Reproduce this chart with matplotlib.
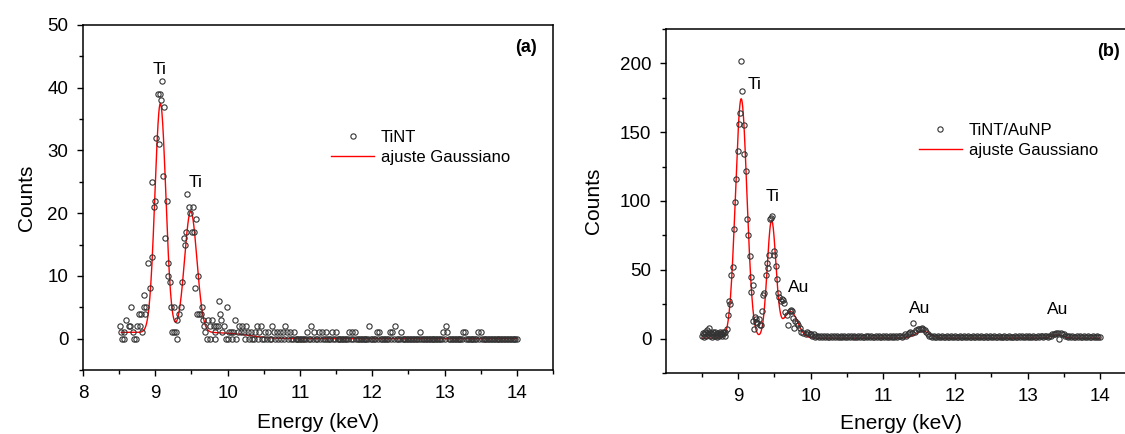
import numpy as np
import matplotlib
matplotlib.use("Agg")
import matplotlib.pyplot as plt
from matplotlib.ticker import MultipleLocator

plt.rcParams['font.family'] = ['Liberation Sans', 'DejaVu Sans']

# ---- panel (a): TiNT ----
# peak region, points (keV, counts)
peak_e_a = [8.515, 8.53, 8.54, 8.57, 8.565, 8.59, 8.63, 8.65, 8.66, 8.69,
            8.70, 8.73, 8.75, 8.78, 8.80, 8.79, 8.82, 8.84, 8.85, 8.87,
            8.86, 8.90, 8.93, 8.95, 8.96, 8.975, 8.995, 9.005, 9.035, 9.045,
            9.06, 9.08, 9.095, 9.125, 9.105, 9.135, 9.16, 9.18, 9.17, 9.21,
            9.22, 9.23, 9.26, 9.26, 9.28, 9.30, 9.30, 9.33, 9.355, 9.37,
            9.39, 9.41, 9.425, 9.44, 9.465, 9.485, 9.505, 9.52, 9.535, 9.56,
            9.595, 9.555, 9.575, 9.605, 9.63, 9.645, 9.655, 9.675, 9.685, 9.71,
            9.73, 9.75, 9.76, 9.78, 9.81, 9.82, 9.83, 9.84, 9.87, 9.885,
            9.90, 9.915, 9.925, 9.95, 9.975, 9.985]
peak_c_a = [2, 1, 0, 0, 1, 3, 2, 2, 5, 1,
            0, 0, 2, 4, 4, 2, 1, 5, 7, 5,
            4, 12, 8, 13, 25, 21, 22, 32, 39, 31,
            39, 38, 41, 37, 26, 16, 22, 12, 10, 9,
            5, 1, 5, 1, 1, 0, 3, 4, 5, 9,
            16, 15, 17, 23, 21, 20, 17, 21, 17, 19,
            10, 8, 4, 4, 4, 5, 3, 2, 1, 0,
            3, 0, 2, 3, 2, 1, 0, 2, 2, 6,
            4, 3, 1, 2, 0, 5]
# 10.00 ... 14.00 keV, 0.02 keV channels
tail_c_a = [0, 1, 1, 0, 1, 3, 0, 1, 2, 1,
            2, 1, 0, 2, 1, 0, 1, 0, 0, 1,
            2, 0, 1, 2, 0, 0, 1, 0, 1, 0,
            0, 2, 1, 0, 1, 0, 1, 0, 1, 0,
            2, 1, 0, 1, 0, 0, 1, 0, 0, 0,
            0, 0, 0, 0, 0, 1, 0, 0, 2, 0,
            1, 0, 0, 1, 0, 1, 0, 0, 1, 0,
            0, 0, 1, 0, 0, 1, 0, 0, 0, 0,
            0, 0, 0, 0, 1, 0, 1, 0, 1, 0,
            0, 0, 0, 0, 0, 0, 0, 0, 2, 0,
            0, 0, 0, 1, 0, 1, 0, 0, 0, 0,
            0, 0, 1, 0, 1, 0, 2, 0, 0, 0,
            1, 0, 0, 0, 0, 0, 0, 0, 0, 0,
            0, 0, 0, 1, 0, 0, 0, 0, 0, 0,
            0, 0, 0, 0, 0, 0, 0, 0, 0, 1,
            0, 2, 1, 0, 0, 0, 0, 0, 0, 0,
            0, 0, 0, 1, 1, 0, 0, 0, 0, 0,
            0, 0, 0, 1, 0, 1, 0, 0, 0, 0,
            0, 0, 0, 0, 0, 0, 0, 0, 0, 0,
            0, 0, 0, 0, 0, 0, 0, 0, 0, 0,
            0]
# gaussian fit (a): centres, heights, sigmas, background level
fit_cen_a = [9.07, 9.49]
fit_amp_a = [36.5, 19.3]
fit_sig_a = [0.075, 0.085]
fit_bg_a = 1.0

# ---- panel (b): TiNT/AuNP ----
peak_e_b = [8.50, 8.51, 8.52, 8.53, 8.54, 8.55, 8.56, 8.57, 8.58, 8.59,
            8.60, 8.61, 8.62, 8.63, 8.64, 8.65, 8.66, 8.67, 8.68, 8.69,
            8.70, 8.71, 8.72, 8.73, 8.74, 8.75, 8.76, 8.77, 8.78, 8.79,
            8.80, 8.81, 8.82, 8.84, 8.86, 8.87, 8.885, 8.905, 8.925, 8.945,
            8.955, 8.97, 8.99, 9.005, 9.02, 9.035, 9.05, 9.075, 9.085, 9.10,
            9.12, 9.13, 9.155, 9.17, 9.18, 9.20, 9.215, 9.21, 9.23, 9.24,
            9.25, 9.26, 9.28, 9.295, 9.315, 9.325, 9.345, 9.36, 9.385, 9.39,
            9.41, 9.425, 9.435, 9.455, 9.47, 9.49, 9.50, 9.515, 9.54, 9.555,
            9.565, 9.59, 9.60, 9.62, 9.63, 9.645, 9.68, 9.69, 9.71, 9.725,
            9.74, 9.75, 9.77, 9.79, 9.81, 9.83, 9.85, 9.87, 9.90, 9.93,
            9.95, 9.97, 9.99]
peak_c_b = [2, 4, 1, 3, 5, 2, 4, 6, 3, 8,
            5, 2, 4, 1, 3, 5, 2, 4, 5, 2,
            3, 1, 4, 2, 5, 3, 4, 2, 3, 5,
            4, 2, 5, 7, 17, 27, 25, 46, 52, 80,
            99, 116, 136, 156, 164, 202, 180, 155, 134, 122,
            87, 75, 60, 45, 34, 39, 7, 13, 16, 14,
            12, 11, 14, 10, 10, 20, 32, 33, 46, 55,
            51, 61, 87, 88, 89, 64, 61, 53, 43, 33,
            30, 27, 29, 28, 26, 19, 17, 10, 20, 21,
            20, 15, 8, 13, 11, 10, 8, 5, 4, 3,
            5, 4, 3]
# 10.00 ... 14.00 keV, 0.02 keV channels
tail_c_b = [3, 2, 3, 1, 2, 2, 1, 2, 1, 2,
            1, 2, 1, 1, 2, 1, 2, 1, 2, 1,
            1, 2, 1, 2, 1, 1, 2, 1, 2, 1,
            2, 1, 1, 2, 1, 2, 1, 1, 2, 1,
            2, 1, 2, 1, 1, 2, 1, 2, 1, 1,
            2, 1, 2, 1, 1, 2, 1, 2, 1, 2,
            1, 2, 2, 1, 2, 3, 2, 3, 4, 5,
            4, 11, 5, 6, 7, 7, 7, 8, 7, 6,
            5, 3, 2, 2, 1, 2, 1, 1, 2, 1,
            1, 2, 1, 1, 2, 1, 1, 2, 1, 1,
            2, 1, 1, 2, 1, 1, 2, 1, 1, 2,
            1, 1, 2, 1, 1, 2, 1, 1, 2, 1,
            1, 2, 1, 1, 2, 1, 1, 2, 1, 1,
            2, 1, 1, 1, 2, 1, 1, 2, 1, 1,
            1, 2, 1, 1, 2, 1, 2, 1, 1, 2,
            1, 2, 1, 1, 2, 1, 1, 2, 1, 2,
            2, 1, 2, 2, 1, 2, 2, 3, 3, 3,
            4, 4, 0, 4, 3, 3, 2, 2, 1, 2,
            1, 2, 1, 1, 2, 1, 2, 1, 1, 2,
            1, 1, 2, 1, 1, 2, 1, 1, 2, 1,
            1]
fit_cen_b = [9.04, 9.46, 9.72, 11.55, 13.41]
fit_amp_b = [174, 85, 19.5, 5.0, 2.5]
fit_sig_b = [0.079, 0.06, 0.1, 0.1, 0.08]
fit_bg_b = 0.3

tail_e = np.round(np.arange(10.0, 14.001, 0.02), 2)

labels_a = [("Ti", 9.06, 42.9), ("Ti", 9.55, 24.9)]
labels_b = [("Ti", 9.23, 185), ("Ti", 9.47, 103), ("Au", 9.83, 37),
            ("Au", 11.51, 22), ("Au", 13.42, 21)]


def gauss_fit(e, cen, amp, sig, bg):
    y = np.zeros_like(e) + bg
    for c, a, s in zip(cen, amp, sig):
        y = y + a * np.exp(-(e - c) ** 2 / (2 * s ** 2))
    return y


def style_axes(ax):
    for sp in ax.spines.values():
        sp.set_linewidth(1.1)
    ax.tick_params(which='both', direction='out', top=False, right=False,
                   labelsize=13.5, width=1.0, pad=6)
    ax.tick_params(which='major', length=4.5)
    ax.tick_params(which='minor', length=3)


fig = plt.figure(figsize=(11.25, 4.34), dpi=100)
ax1 = fig.add_axes([83 / 1125, 64 / 434, 470 / 1125, 345 / 434])
ax2 = fig.add_axes([666 / 1125, 61 / 434, 470 / 1125, 344 / 434])

mk = dict(marker='o', markersize=3.8, markerfacecolor='none',
          markeredgecolor='#333333', markeredgewidth=0.8, linestyle='none')

# (a)
e_a = np.array(peak_e_a + list(tail_e))
c_a = np.array(peak_c_a + tail_c_a)
ax1.plot(e_a, c_a, **mk, label='TiNT', zorder=3)
ee = np.linspace(8.53, 14.0, 1500)
bg_a = fit_bg_a / (1 + np.exp((ee - 10.3) / 0.15))
ax1.plot(ee, gauss_fit(ee, fit_cen_a, fit_amp_a, fit_sig_a, 0) + bg_a,
         color='red', lw=1.0, label='ajuste Gaussiano', zorder=2)
ax1.set_xlim(8, 14.5)
ax1.set_ylim(-5, 50)
ax1.xaxis.set_major_locator(MultipleLocator(1))
ax1.xaxis.set_minor_locator(MultipleLocator(0.5))
ax1.yaxis.set_major_locator(MultipleLocator(10))
ax1.yaxis.set_minor_locator(MultipleLocator(5))
style_axes(ax1)
ax1.set_xlabel("Energy (keV)", fontsize=15, labelpad=8.5)
ax1.set_ylabel("Counts", fontsize=15, labelpad=8)
for t, x, y in labels_a:
    ax1.text(x, y, t, fontsize=12.5, ha='center', va='center')
ax1.text(0.965, 0.935, "(a)", transform=ax1.transAxes, fontsize=13,
         fontweight='bold', ha='right', va='center')
ax1.legend(loc='upper left', bbox_to_anchor=(0.51, 0.72), frameon=False,
           fontsize=12, handlelength=2.6, handletextpad=0.4, borderpad=0,
           labelspacing=0.3, numpoints=1)

# (b)
e_b = np.array(peak_e_b + list(tail_e))
c_b = np.array(peak_c_b + tail_c_b)
ax2.plot(e_b, c_b, **mk, label='TiNT/AuNP', zorder=3)
ee = np.linspace(8.5, 14.0, 1500)
ax2.plot(ee, gauss_fit(ee, fit_cen_b, fit_amp_b, fit_sig_b, fit_bg_b),
         color='red', lw=1.0, label='ajuste Gaussiano', zorder=2)
ax2.set_xlim(8, 14.5)
ax2.set_ylim(-25, 225)
ax2.set_xticks([9, 10, 11, 12, 13, 14])
ax2.set_xticks(np.arange(8.5, 14.6, 1.0), minor=True)
ax2.yaxis.set_major_locator(MultipleLocator(50))
ax2.yaxis.set_minor_locator(MultipleLocator(25))
style_axes(ax2)
ax2.set_xlabel("Energy (keV)", fontsize=15, labelpad=6.5)
ax2.set_ylabel("Counts", fontsize=15, labelpad=12)
for t, x, y in labels_b:
    ax2.text(x, y, t, fontsize=12.5, ha='center', va='center')
ax2.text(0.965, 0.935, "(b)", transform=ax2.transAxes, fontsize=13,
         fontweight='bold', ha='right', va='center')
ax2.legend(loc='upper left', bbox_to_anchor=(0.52, 0.75), frameon=False,
           fontsize=12, handlelength=2.6, handletextpad=0.4, borderpad=0,
           labelspacing=0.3, numpoints=1)

fig.savefig("out.png", dpi=100)
